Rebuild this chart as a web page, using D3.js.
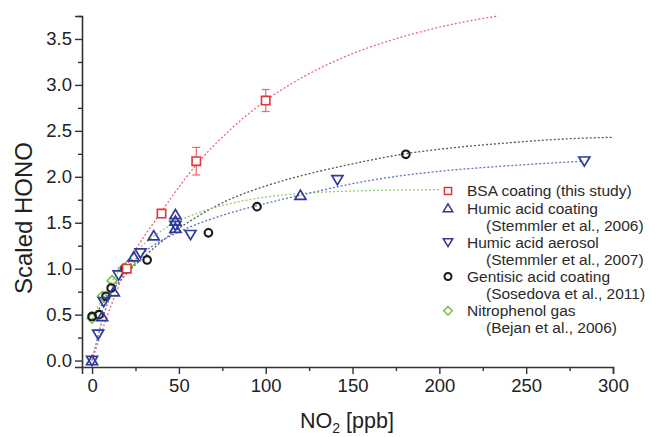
<!DOCTYPE html>
<html><head><meta charset="utf-8">
<script src="https://cdn.jsdelivr.net/npm/d3@7"></script>
<style>body{margin:0;background:#fff}svg{display:block}text{font-family:"Liberation Sans",Arial,sans-serif}</style>
</head><body>
<svg id="c" width="655" height="437"></svg>
<script>
// ---- data ----
const bsaX = [20, 40, 60, 100];
const bsaY = [1.0, 1.6, 2.17, 2.83];
const bsaErr = [0, 0, 0.15, 0.12];
const humicCoatX = [0, 5.8, 12.5, 24, 35.5, 48, 48, 48, 120];
const humicCoatY = [0, 0.48, 0.75, 1.13, 1.36, 1.44, 1.52, 1.59, 1.80];
const humicAeroX = [0, 3.5, 6.7, 15.3, 27.9, 48, 56.7, 141.3, 283.5];
const humicAeroY = [0, 0.285, 0.64, 0.93, 1.17, 1.47, 1.37, 1.966, 2.17];
const gentX = [0, 4, 8, 11, 19, 31.7, 67, 95, 180.7];
const gentY = [0.48, 0.50, 0.70, 0.79, 1.0, 1.095, 1.39, 1.675, 2.245];
const nitroX = [0, 6, 11.5, 18, 22];
const nitroY = [0.46, 0.70, 0.87, 1.0, 1.06];
// fitted curves
const bsaFitX = [0, 10, 20, 40, 60, 80, 100, 120, 150, 180, 210, 234];
const bsaFitY = [0, 0.55, 1.02, 1.62, 2.13, 2.52, 2.83, 3.07, 3.34, 3.53, 3.67, 3.75];
const aeroFitX = [0, 5, 10, 20, 30, 50, 75, 100, 120, 160, 200, 240, 283];
const aeroFitY = [0, 0.38, 0.68, 1.0, 1.18, 1.4, 1.58, 1.71, 1.8, 1.96, 2.06, 2.12, 2.17];
const gentFitX = [0, 10, 20, 30, 45, 60, 80, 100, 120, 140, 160, 180, 210, 240, 270, 300];
const gentFitY = [0.45, 0.72, 0.95, 1.13, 1.37, 1.56, 1.76, 1.9, 2.01, 2.1, 2.18, 2.25, 2.32, 2.37, 2.41, 2.43];
const nitroFitX = [0, 10, 20, 30, 45, 60, 80, 100, 130, 160, 200];
const nitroFitY = [0.45, 0.82, 1.08, 1.27, 1.47, 1.6, 1.71, 1.78, 1.83, 1.85, 1.86];
const xTicks = [0, 50, 100, 150, 200, 250, 300];
const xMinor = [25, 75, 125, 175, 225, 275];
const yTicks = [0, 0.5, 1.0, 1.5, 2.0, 2.5, 3.0, 3.5];
const yMinor = [0.25, 0.75, 1.25, 1.75, 2.25, 2.75, 3.25, 3.75];
const legendLines = [
  ["BSA coating (this study)", null],
  ["Humic acid coating", "(Stemmler et al., 2006)"],
  ["Humic acid aerosol", "(Stemmler et al., 2007)"],
  ["Gentisic acid coating", "(Sosedova et al., 2011)"],
  ["Nitrophenol gas", "(Bejan et al., 2006)"]
];

// ---- styles ----
const RED = "#e3343c", BLUE = "#2e3a98", BLACK = "#1a1a1a", GREEN = "#78bd48";
const FIT_RED = "#ec6670", FIT_BLUE = "#6470c0", FIT_BLACK = "#555", FIT_GREEN = "#98cc78";

const svg = d3.select("#c");
const m = {l: 82, t: 16, r: 42, b: 70};
const W = 655 - m.l - m.r, H = 437 - m.t - m.b;
const x = d3.scaleLinear().domain([-5.8, 300]).range([m.l, m.l + W]);
const y = d3.scaleLinear().domain([-0.07, 3.75]).range([m.t + H, m.t]);
const g = svg.append("g");

// axes
const axCol = "#333";
const xa = g.append("g").attr("transform", `translate(0,${m.t + H})`)
  .call(d3.axisBottom(x).tickValues(xTicks).tickFormat(d3.format("d")).tickSize(7).tickPadding(5));
const xm = g.append("g").attr("transform", `translate(0,${m.t + H})`)
  .call(d3.axisBottom(x).tickValues(xMinor).tickFormat("").tickSize(4));
const ya = g.append("g").attr("transform", `translate(${m.l},0)`)
  .call(d3.axisLeft(y).tickValues(yTicks).tickFormat(d3.format(".1f")).tickSize(7).tickPadding(3));
const ym = g.append("g").attr("transform", `translate(${m.l},0)`)
  .call(d3.axisLeft(y).tickValues(yMinor).tickFormat("").tickSize(4));
[xa, xm, ya, ym].forEach(a => {
  a.select(".domain").attr("stroke", axCol).attr("stroke-width", 1.6);
  a.selectAll(".tick line").attr("stroke", axCol).attr("stroke-width", 1.4);
  a.selectAll("text").attr("fill", "#222").style("font-size", "18.5px").style("font-family", '"Liberation Sans",Arial,sans-serif');
});
xm.select(".domain").remove();
ym.select(".domain").remove();

// axis titles
svg.append("text").attr("transform", "translate(32,218) rotate(-90)").attr("text-anchor", "middle")
  .style("font-size", "24px").attr("fill", "#222").text("Scaled HONO");
const xt = svg.append("text").attr("x", 347).attr("y", 428).attr("text-anchor", "middle")
  .style("font-size", "21.5px").attr("fill", "#222");
xt.append("tspan").text("NO");
xt.append("tspan").attr("dy", 5).style("font-size", "14px").text("2");
xt.append("tspan").attr("dy", -5).text(" [ppb]");

// fits
const line = d3.line().x(d => x(d[0])).y(d => y(d[1])).curve(d3.curveMonotoneX);
const fits = [
  [gentFitX, gentFitY, FIT_BLACK],
  [nitroFitX, nitroFitY, FIT_GREEN],
  [aeroFitX, aeroFitY, FIT_BLUE],
  [bsaFitX, bsaFitY, FIT_RED]
];
fits.forEach(([fx, fy, c]) => {
  g.append("path").datum(d3.zip(fx, fy)).attr("d", line).attr("fill", "none")
    .attr("stroke", c).attr("stroke-width", 1.3).attr("stroke-dasharray", "2,2");
});

// marker shapes
function shape(kind) {
  switch (kind) {
    case "square": return "M-4.2,-4.2H4.2V4.2H-4.2Z";
    case "up": return "M0,-5L5.5,4.2H-5.5Z";
    case "down": return "M0,5L5.5,-4.2H-5.5Z";
    case "diamond": return "M0,-5L5,0L0,5L-5,0Z";
  }
}
function drawPts(xs, ys, kind, col, sw) {
  const pts = d3.zip(xs, ys);
  if (kind === "circle") {
    g.selectAll(null).data(pts).join("circle").attr("cx", d => x(d[0])).attr("cy", d => y(d[1]))
      .attr("r", 3.8).attr("fill", "none").attr("stroke", col).attr("stroke-width", sw);
  } else {
    g.selectAll(null).data(pts).join("path").attr("d", shape(kind))
      .attr("transform", d => `translate(${x(d[0])},${y(d[1])})`)
      .attr("fill", "none").attr("stroke", col).attr("stroke-width", sw);
  }
}
drawPts(nitroX, nitroY, "diamond", GREEN, 1.5);
drawPts(gentX, gentY, "circle", BLACK, 2.1);
drawPts(humicAeroX, humicAeroY, "down", BLUE, 1.7);
drawPts(humicCoatX, humicCoatY, "up", BLUE, 1.7);

// BSA error bars
d3.zip(bsaX, bsaY, bsaErr).filter(d => d[2] > 0).forEach(([bx, by, e]) => {
  const cx = x(bx);
  g.append("line").attr("x1", cx).attr("x2", cx).attr("y1", y(by + e)).attr("y2", y(by - e)).attr("stroke", FIT_RED).attr("stroke-width", 1.2);
  [by + e, by - e].forEach(v => g.append("line").attr("x1", cx - 4).attr("x2", cx + 4).attr("y1", y(v)).attr("y2", y(v)).attr("stroke", FIT_RED).attr("stroke-width", 1.2));
});
g.selectAll(null).data(d3.zip(bsaX, bsaY)).join("path").attr("d", shape("square"))
  .attr("transform", d => `translate(${x(d[0])},${y(d[1])})`)
  .attr("fill", "#fff").attr("stroke", RED).attr("stroke-width", 1.6);

// legend
const legKinds = [["square", RED], ["up", BLUE], ["down", BLUE], ["circle", BLACK], ["diamond", GREEN]];
const lg = svg.append("g");
let ly = 191;
legendLines.forEach((l, i) => {
  const [k, c] = legKinds[i];
  if (k === "circle") {
    lg.append("circle").attr("cx", 448).attr("cy", ly).attr("r", 3.5).attr("fill", "none").attr("stroke", c).attr("stroke-width", 2);
  } else {
    lg.append("path").attr("d", shape(k)).attr("transform", `translate(448,${ly}) scale(0.85)`)
      .attr("fill", "none").attr("stroke", c).attr("stroke-width", 1.8);
  }
  lg.append("text").attr("x", 467).attr("y", ly).attr("dy", "0.35em").style("font-size", "15.5px").attr("fill", "#2a2a2a").text(l[0]);
  ly += 17.1;
  if (l[1]) {
    lg.append("text").attr("x", 486).attr("y", ly).attr("dy", "0.35em").style("font-size", "15.5px").attr("fill", "#2a2a2a").text(l[1]);
    ly += 17.1;
  }
});
</script>
</body></html>
